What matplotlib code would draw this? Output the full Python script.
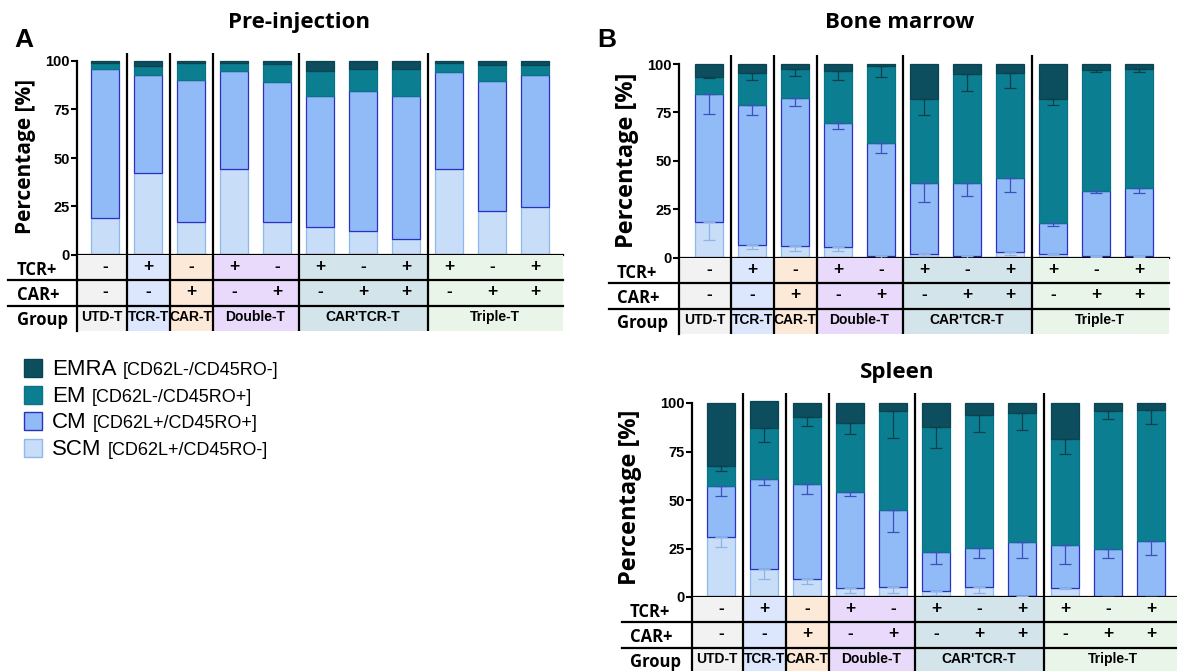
import numpy as np
import matplotlib
matplotlib.use("Agg")
import matplotlib.pyplot as plt
from matplotlib import transforms
from matplotlib.patches import Rectangle

W, H = 1177, 671

# table rows under each chart
TCR = ["-", "+", "-", "+", "-", "+", "-", "+", "+", "-", "+"]
CAR = ["-", "-", "+", "-", "+", "-", "+", "+", "-", "+", "+"]
GROUPS = ["UTD-T", "TCR-T", "CAR-T", "Double-T", "CAR'TCR-T", "Triple-T"]
GROUP_SIZE = [1, 1, 1, 2, 3, 3]
GROUP_COLORS = ["#f2f2f2", "#dce6fd", "#fde9d7", "#e9dafc", "#d3e5ea", "#e9f5e9"]

SUBSETS = ["SCM", "CM", "EM", "EMRA"]
MARKERS = {"EMRA": "[CD62L-/CD45RO-]", "EM": "[CD62L-/CD45RO+]",
           "CM": "[CD62L+/CD45RO+]", "SCM": "[CD62L+/CD45RO-]"}

# cumulative top of each subset (%)
pre_scm = [19.0, 42.1, 16.8, 44.2, 16.8, 14.6, 12.2, 8.1, 44.2, 22.5, 24.6]
pre_cm = [95.7, 92.6, 90.2, 94.7, 89.0, 82.1, 84.5, 82.1, 94.2, 89.5, 92.6]
pre_em = [98.8, 97.6, 98.8, 98.8, 98.3, 95.0, 95.9, 95.9, 98.8, 97.9, 97.9]
pre_emra = [100] * 11

bm_scm = [18.7, 6.7, 6.0, 5.5, 1.2, 2.1, 1.0, 3.1, 2.2, 1.0, 1.0]
bm_cm = [84.5, 78.9, 82.6, 69.4, 59.3, 38.8, 38.7, 41.1, 17.9, 34.4, 35.9]
bm_em = [93.5, 95.4, 97.4, 96.2, 98.8, 81.8, 94.8, 95.2, 82.0, 97.1, 97.6]
bm_emra = [100] * 11
bm_scm_sd = [9.4, 2.2, 2.2, 2.1, 1.2, 1.1, 1.0, 1.4, 0.5, 0.5, 0.5]
bm_cm_sd = [10.3, 5.2, 4.2, 2.9, 5.0, 9.8, 6.7, 7.1, 1.4, 1.1, 2.6]
bm_em_sd = [0.5, 3.6, 3.6, 4.4, 5.7, 7.9, 8.5, 7.7, 3.3, 1.2, 1.9]

sp_scm = [30.8, 14.6, 9.1, 4.6, 5.3, 2.9, 5.2, 0.3, 4.8, 0.2, 0.2]
sp_cm = [57.0, 60.8, 58.5, 53.9, 44.6, 23.1, 25.5, 28.6, 27.0, 25.0, 28.7]
sp_em = [67.3, 86.9, 92.6, 89.7, 96.0, 87.4, 94.0, 94.8, 81.6, 96.0, 96.6]
sp_emra = [100, 101, 100, 100, 100, 100, 100, 100, 100, 100, 100]
sp_scm_sd = [4.8, 5.5, 2.2, 2.7, 3.4, 1.9, 3.1, 0.3, 0.8, 0.2, 0.2]
sp_cm_sd = [5.0, 3.1, 5.5, 1.7, 11.2, 6.2, 5.5, 8.6, 9.8, 5.0, 7.0]
sp_em_sd = [2.6, 7.0, 4.5, 5.7, 14.1, 10.6, 9.0, 8.7, 7.9, 4.3, 7.4]

FACE = {"SCM": "#c8ddf8", "CM": "#90bbf7", "EM": "#0b7e92", "EMRA": "#0c4e5e"}
EDGE = {"SCM": "#8fb8ef", "CM": "#2b30c0", "EM": "#0b7385", "EMRA": "#0a4452"}
ERRC = {"SCM": "#8fb3e6", "CM": "#3d4fb8", "EM": "#0d3f4b", "EMRA": "#0d3f4b"}

TICK_FONT = dict(family="Liberation Sans", weight="bold")
NARROW_FONT = dict(family=["Liberation Sans Narrow", "Liberation Sans"], weight="bold")
HEAD_FONT = dict(family="Open Sans", weight="bold")

fig = plt.figure(figsize=(W / 100, H / 100), dpi=100)


def frac(x0, y0, x1, y1):
    return [x0 / W, 1 - y1 / H, (x1 - x0) / W, (y1 - y0) / H]


def panel(left, right, y100, y0, ytab, bar0, sep_top, lab_x, line_x,
          tops, sds, title, title_xy, ylab_xy, ylab_size):
    step = 43.0
    xl, xr = (left - bar0) / step, (right - bar0) / step
    x = np.arange(len(TCR))

    ax = fig.add_axes(frac(left, y100, right, y0))
    bottom = np.zeros(len(x))
    for name, top, sd in zip(SUBSETS, tops, sds):
        top = np.asarray(top, float)
        ax.bar(x, top - bottom, bottom=bottom, width=0.65, color=FACE[name],
               edgecolor=EDGE[name], linewidth=0.9, clip_on=False, zorder=2)
        if sd is not None:
            ax.errorbar(x, top, yerr=[sd, np.zeros(len(x))], fmt="none",
                        ecolor=ERRC[name], elinewidth=0.9, capsize=4.5,
                        capthick=0.9, zorder=3, clip_on=False)
        bottom = top
    ax.set_xlim(xl, xr)
    ax.set_ylim(0, 100)
    ax.set_yticks([0, 25, 50, 75, 100])
    ax.set_xticks([])
    for s in ("top", "right"):
        ax.spines[s].set_visible(False)
    for s in ("left", "bottom"):
        ax.spines[s].set_linewidth(1.6)
    ax.tick_params(axis="y", length=4, width=1.5, pad=1, labelsize=10.5)
    for lab in ax.get_yticklabels():
        lab.set(**TICK_FONT)

    edges = np.cumsum([0] + GROUP_SIZE) - 0.5
    edges[0], edges[-1] = xl, xr
    sep_units = (y0 - sep_top) / (y0 - y100) * 100
    ax.vlines(edges[1:-1], 0, sep_units, color="black", lw=1.6, clip_on=False)

    tb = fig.add_axes(frac(left, y0, right, ytab))
    tb.set_xlim(xl, xr)
    tb.set_ylim(3, 0)
    tb.set_xticks([])
    tb.set_yticks([])
    for s in ("top", "right", "bottom"):
        tb.spines[s].set_visible(False)
    tb.spines["left"].set_linewidth(1.6)
    for g, name in enumerate(GROUPS):
        tb.axvspan(edges[g], edges[g + 1], color=GROUP_COLORS[g], lw=0, zorder=0)
        tb.text((edges[g] + edges[g + 1]) / 2, 2.45, name, ha="center", va="center",
                fontsize=10, **NARROW_FONT)
    for i in x:
        tb.text(i, 0.45, TCR[i], ha="center", va="center", fontsize=12.5, **TICK_FONT)
        tb.text(i, 1.45, CAR[i], ha="center", va="center", fontsize=12.5, **TICK_FONT)
    tb.vlines(edges[1:-1], 0, 3, color="black", lw=1.6)
    x_start = (line_x - left) / (right - left)
    for yy in (1, 2):
        tb.axhline(yy, xmin=x_start, xmax=1, color="black", lw=1.6, clip_on=False)
    blend = transforms.blended_transform_factory(fig.transFigure, tb.transData)
    for r, lab in enumerate(["TCR+", "CAR+", "Group"]):
        tb.text(lab_x / W, r + 0.58, lab, transform=blend, ha="left", va="center",
                fontsize=12, **HEAD_FONT)

    fig.text(title_xy[0] / W, 1 - title_xy[1] / H, title, ha="center", va="baseline",
             fontsize=16, **HEAD_FONT)
    fig.text(ylab_xy[0] / W, 1 - ylab_xy[1] / H, "Percentage [%]", rotation=90,
             ha="center", va="center", fontsize=ylab_size, **HEAD_FONT)


panel(77, 563, 61, 255, 331, 105, 53, 17, 8,
      [pre_scm, pre_cm, pre_em, pre_emra], [None, None, None, None],
      "Pre-injection", (299, 28), (26, 156), 15)
panel(679, 1169, 64, 258, 334, 709, 55, 617, 609,
      [bm_scm, bm_cm, bm_em, bm_emra], [bm_scm_sd, bm_cm_sd, bm_em_sd, None],
      "Bone marrow", (900, 28), (627, 160), 17)
panel(692, 1182, 403, 597, 673, 721, 393, 630, 622,
      [sp_scm, sp_cm, sp_em, sp_emra], [sp_scm_sd, sp_cm_sd, sp_em_sd, None],
      "Spleen", (897, 378), (630, 497), 17)

fig.text(14 / W, 1 - 47 / H, "A", fontsize=19, va="baseline", **TICK_FONT)
fig.text(597 / W, 1 - 47 / H, "B", fontsize=19, va="baseline", **TICK_FONT)

# legend: coloured square, subset name, marker phenotype in smaller type
fig.canvas.draw()
for k, name in enumerate(["EMRA", "EM", "CM", "SCM"]):
    y_top = 359 + 26.7 * k
    fig.patches.append(Rectangle((24 / W, 1 - (y_top + 18) / H), 18 / W, 18 / H,
                                 transform=fig.transFigure, facecolor=FACE[name],
                                 edgecolor=EDGE[name], lw=1))
    t = fig.text(52 / W, 1 - (y_top + 16) / H, name, fontsize=16, va="baseline",
                 family="Liberation Sans")
    bb = t.get_window_extent(renderer=fig.canvas.get_renderer())
    fig.text((bb.x1 + 6) / W, 1 - (y_top + 16) / H, MARKERS[name], fontsize=13,
             va="baseline", family="Liberation Sans")

fig.savefig("out.png", dpi=100)
